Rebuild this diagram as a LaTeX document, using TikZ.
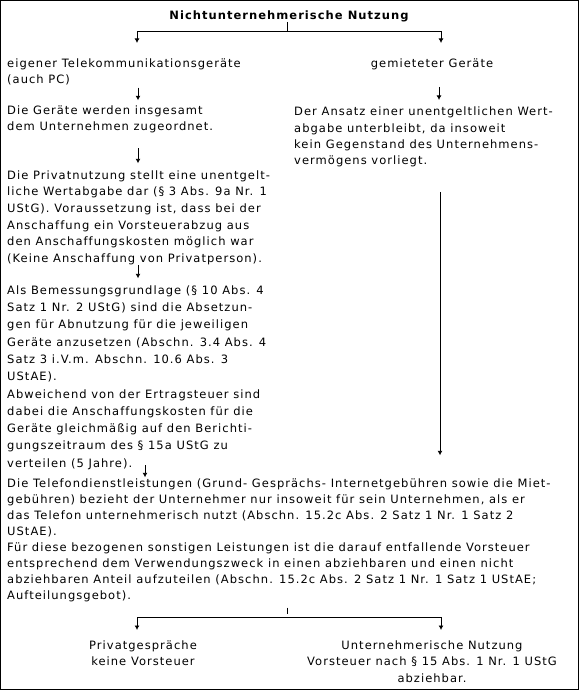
\documentclass[tikz,border=0pt]{standalone}
\usepackage{fontspec}
\setmainfont{DejaVu Sans}[LetterSpace=9, Ligatures=NoCommon]
\usetikzlibrary{arrows.meta}

\begin{document}
\begin{tikzpicture}[x=1pt, y=-1pt,
    txt/.style={anchor=north west, inner sep=0pt, align=left, font=\fontsize{11.5}{#1}\selectfont},
    txt/.default=16.6,
    mitte/.style={anchor=north, inner sep=0pt, align=center, font=\fontsize{11.5}{16.4}\selectfont},
    linie/.style={line width=1pt},
    pfeil/.style={line width=1pt, -{Latex[length=4.5pt, width=5pt]}}]
    % Rahmen
    \useasboundingbox (0,0) rectangle (579,690);
    \draw[line width=1.2pt] (0.6,0.6) rectangle (578.4,689.4);

    % Ueberschrift
    \node[mitte, font=\bfseries\fontsize{11.5}{14}\selectfont] (titel) at (289,10.3) {Nichtunternehmerische Nutzung};

    % Linke Spalte
    \node[txt] (eigen) at (7,58.3) {eigener Telekommunikationsgeräte\\(auch PC)};
    \node[txt] (zuord) at (7,105.3) {Die Geräte werden insgesamt\\dem Unternehmen zugeordnet.};
    \node[txt] (privat) at (7,170.3) {Die Privatnutzung stellt eine unentgelt-\\liche Wertabgabe dar (§ 3 Abs. 9a Nr. 1\\UStG). Voraussetzung ist, dass bei der\\Anschaffung ein Vorsteuerabzug aus\\den Anschaffungskosten möglich war\\(Keine Anschaffung von Privatperson).};
    \node[txt=17.3] (bemess) at (7,285.3) {Als Bemessungsgrundlage (§ 10 Abs. 4\\Satz 1 Nr. 2 UStG) sind die Absetzun-\\gen für Abnutzung für die jeweiligen\\Geräte anzusetzen (Abschn. 3.4 Abs. 4\\Satz 3 i.V.m. Abschn. 10.6 Abs. 3\\UStAE).\\Abweichend von der Ertragsteuer sind\\dabei die Anschaffungskosten für die\\Geräte gleichmäßig auf den Berichti-\\gungszeitraum des § 15a UStG zu\\verteilen (5 Jahre).};

    % Rechte Spalte
    \node[mitte] (miet) at (432,58.3) {gemieteter Geräte};
    \node[txt=16.1] (ansatz) at (294,107) {Der Ansatz einer unentgeltlichen Wert-\\abgabe unterbleibt, da insoweit\\kein Gegenstand des Unternehmens-\\vermögens vorliegt.};

    % Gemeinsamer Teil
    \node[txt=16.1] (telefon) at (7,478.3) {Die Telefondienstleistungen (Grund- Gesprächs- Internetgebühren sowie die Miet-\\gebühren) bezieht der Unternehmer nur insoweit für sein Unternehmen, als er\\das Telefon unternehmerisch nutzt (Abschn. 15.2c Abs. 2 Satz 1 Nr. 1 Satz 2\\UStAE).\\Für diese bezogenen sonstigen Leistungen ist die darauf entfallende Vorsteuer\\entsprechend dem Verwendungszweck in einen abziehbaren und einen nicht\\abziehbaren Anteil aufzuteilen (Abschn. 15.2c Abs. 2 Satz 1 Nr. 1 Satz 1 UStAE;\\Aufteilungsgebot).};
    \node[mitte] (privatg) at (143,640.3) {Privatgespräche\\keine Vorsteuer};
    \node[mitte] (unternehm) at (432,640.3) {Unternehmerische Nutzung\\Vorsteuer nach § 15 Abs. 1 Nr. 1 UStG\\abziehbar.};

    % Verzweigung oben
    \coordinate (gabel) at (287,32);
    \coordinate (obl) at (137,43);
    \coordinate (obr) at (441,43);
    \draw[linie] (titel.south -| gabel) -- (gabel);
    \draw[pfeil] (gabel) -| (obl);
    \draw[pfeil] (gabel) -| (obr);

    % Pfeile links
    \coordinate (xl) at (138,0);
    \coordinate (xr) at (439,0);
    \coordinate (p5) at (145,465);
    \draw[pfeil, shorten <=2pt, shorten >=5pt] (eigen.south -| xl) -- (zuord.north -| xl);
    \draw[pfeil, shorten <=15pt, shorten >=7pt] (zuord.south -| xl) -- (privat.north -| xl);
    \draw[pfeil, shorten >=7pt] (privat.south -| xl) -- (bemess.north -| xl);
    \draw[pfeil, shorten >=1pt] (p5) -- (p5 |- telefon.north);

    % Pfeile rechts
    \draw[pfeil, shorten <=17pt, shorten >=7pt] (miet.south -| xr) -- (ansatz.north -| xr);
    \draw[pfeil, shorten <=25pt, shorten >=23pt] (ansatz.south -| 440,0) -- (telefon.north -| 440,0);

    % Verzweigung unten
    \coordinate (gabel2) at (287,617);
    \coordinate (unl) at (137,630);
    \coordinate (unr) at (441,630);
    \draw[linie, shorten <=5pt, shorten >=3pt] (telefon.south -| gabel2) -- (gabel2);
    \draw[pfeil] (gabel2) -| (unl);
    \draw[pfeil] (gabel2) -| (unr);
\end{tikzpicture}
\end{document}
